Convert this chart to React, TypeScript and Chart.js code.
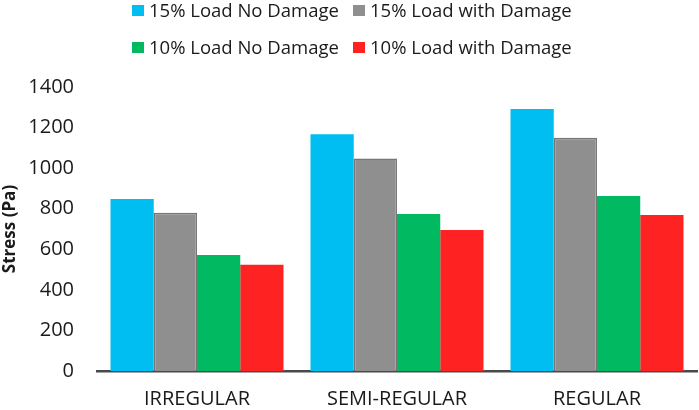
import React, { useEffect, useRef } from "react";
import { Chart, registerables } from "chart.js";

Chart.register(...registerables);

const categories = ["IRREGULAR", "SEMI-REGULAR", "REGULAR"];
const seriesLabels = [
  "15% Load No Damage",
  "15% Load with Damage",
  "10% Load No Damage",
  "10% Load with Damage",
];
const load15NoDamage = [848, 1167, 1292];
const load15WithDamage = [780, 1048, 1150];
const load10NoDamage = [572, 774, 863];
const load10WithDamage = [524, 695, 769];
const yTicks = [0, 200, 400, 600, 800, 1000, 1200, 1400];

const fills = ["#00BDF2", "#8F8F8F", "#00B960", "#FF2222"];
const borders = ["#00BDF2", "#767676", "#00B960", "#FF2222"];
const FONT = "'Open Sans', 'DejaVu Sans', sans-serif";

export default function App() {
  const ref = useRef<HTMLCanvasElement | null>(null);

  useEffect(() => {
    document.body.style.margin = "0";
    const values = [load15NoDamage, load15WithDamage, load10NoDamage, load10WithDamage];
    const chart = new Chart(ref.current as HTMLCanvasElement, {
      type: "bar",
      data: {
        labels: categories,
        datasets: values.map((v, i) => ({
          label: seriesLabels[i],
          data: v,
          backgroundColor: fills[i],
          borderColor: borders[i],
          borderWidth: i === 1 ? 1.5 : 0,
          categoryPercentage: 0.865,
          barPercentage: 1,
        })),
      },
      options: {
        animation: false,
        responsive: true,
        maintainAspectRatio: false,
        layout: { padding: { top: 87, right: 2, left: 0, bottom: 0 } },
        plugins: {
          legend: { display: false },
          tooltip: { enabled: false },
        },
        scales: {
          x: {
            grid: { display: false, drawTicks: false },
            border: { display: true, color: "#4a4a4a", width: 2.5 },
            ticks: {
              color: "#1a1a1a",
              padding: 16,
              font: { family: FONT, size: 20 },
            },
            afterFit: (s: any) => {
              s.height = 39;
            },
          },
          y: {
            min: 0,
            max: 1400,
            afterBuildTicks: (s: any) => {
              s.ticks = yTicks.map((v) => ({ value: v }));
            },
            grid: { display: false, drawTicks: false },
            border: { display: false },
            ticks: {
              color: "#1a1a1a",
              padding: 23,
              font: { family: FONT, size: 20 },
              callback: (v: any) => String(v),
            },
            title: {
              display: true,
              text: "Stress (Pa)",
              color: "#1a1a1a",
              padding: { top: 0, bottom: 0 },
              font: { family: FONT, size: 17, weight: "bold" },
            },
            afterFit: (s: any) => {
              s.width = 97;
            },
          },
        },
      },
    });
    return () => chart.destroy();
  }, []);

  return (
    <div style={{ position: "absolute", left: 0, top: 0, width: 699, height: 410 }}>
      <canvas ref={ref} />
      <div
        style={{
          position: "absolute",
          left: 132,
          top: 0,
          display: "grid",
          gridTemplateColumns: "221px auto",
          gridAutoRows: "37px",
          fontFamily: FONT,
          fontSize: 18.5,
          color: "#1a1a1a",
          lineHeight: "20px",
        }}
      >
        {seriesLabels.map((l, i) => (
          <div key={l} style={{ display: "flex", alignItems: "center", height: 20, whiteSpace: "nowrap" }}>
            <span
              style={{
                display: "inline-block",
                width: 12,
                height: 11,
                background: fills[i],
                marginRight: 5,
              }}
            />
            <span>{l}</span>
          </div>
        ))}
      </div>
    </div>
  );
}
